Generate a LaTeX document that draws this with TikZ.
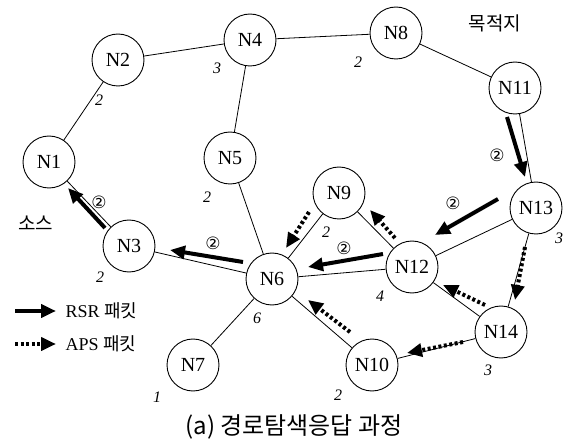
\documentclass[tikz,border=0pt]{standalone}
\usepackage{fontspec}
\setmainfont{Liberation Serif}
\newfontfamily\tms{Liberation Serif}
\newfontfamily\kr{Noto Sans CJK KR}
\newfontfamily\dv{DejaVu Sans}
\usetikzlibrary{arrows.meta}
\begin{document}
\begin{tikzpicture}[x=1pt,y=-1pt,
 nd/.style={circle,draw,line width=0.9pt,minimum size=52pt,inner sep=0pt,font=\tms\fontsize{20}{20}\selectfont},
 ed/.style={line width=0.8pt},
 wt/.style={font=\tms\fontsize{16}{16}\selectfont\itshape},
 rsr/.style={line width=4pt,-{Triangle[length=15pt,width=13pt]}},
 aps/.style={line width=4pt,dash pattern=on 3pt off 2.5pt,-{Triangle[length=15pt,width=13pt]}},
 cn/.style={font=\dv\fontsize{17}{17}\selectfont},
 kt/.style={font=\kr\fontsize{19}{19}\selectfont},
 lg/.style={font=\tms\fontsize{18}{18}\selectfont,anchor=west}]
\useasboundingbox (0,0) rectangle (571,441);
% nodes
\node[nd] (N1) at (49,162) {N1};
\node[nd] (N2) at (118,60) {N2};
\node[nd] (N3) at (129,246) {N3};
\node[nd] (N4) at (250,40) {N4};
\node[nd] (N5) at (230,158) {N5};
\node[nd] (N6) at (272,279) {N6};
\node[nd] (N7) at (193,365) {N7};
\node[nd] (N8) at (396,33) {N8};
\node[nd] (N9) at (339,193) {N9};
\node[nd] (N10) at (372,365) {N10};
\node[nd] (N11) at (515,88) {N11};
\node[nd] (N12) at (412,267) {N12};
\node[nd] (N13) at (536,208) {N13};
\node[nd] (N14) at (501,332) {N14};
% edges
\foreach \a/\b in {N1/N2,N2/N4,N4/N8,N8/N11,N4/N5,N5/N6,N1/N3,N3/N6,N6/N7,N6/N9,N6/N12,N6/N10,N9/N12,N12/N13,N11/N13,N13/N14,N12/N14,N10/N14}
  \draw[ed] (\a) -- (\b);
% weights
\node[wt] (w2) at (99,100) {2};
\node[wt] (w4) at (217,68) {3};
\node[wt] (w8) at (358,62) {2};
\node[wt] (w5) at (207,197) {2};
\node[wt] (w3) at (100,277) {2};
\node[wt] (w6) at (257,318) {6};
\node[wt] (w7) at (157,397) {1};
\node[wt] (w9) at (326,232) {2};
\node[wt] (w12) at (380,296) {4};
\node[wt] (w13) at (559,238) {3};
\node[wt] (w14) at (488,370) {3};
\node[wt] (w10) at (338,395) {2};
% RSR arrows
\draw[rsr] (507,117) -- (525,177);
\draw[rsr] (498,199) -- (435,235);
\draw[rsr] (383,254) -- (308,267);
\draw[rsr] (243,262) -- (170,250);
\draw[rsr] (105,228) -- (68,188);
\node[cn] (c1) at (497,155) {②};
\node[cn] (c2) at (453,203) {②};
\node[cn] (c3) at (344,248) {②};
\node[cn] (c4) at (213,243) {②};
\node[cn] (c5) at (99,202) {②};
% APS arrows
\draw[aps] (525,247) -- (515,300);
\draw[aps] (485,305) -- (443,285);
\draw[aps] (463,342) -- (407,353);
\draw[aps] (350,332) -- (308,300);
\draw[aps] (395,238) -- (370,210);
\draw[aps] (309,212) -- (286,248);
% labels
\node[kt] (dst) at (495,23) {목적지};
\node[kt] (src) at (36,223) {소스};
% legend
\draw[rsr] (15,311) -- (56,311);
\node[lg] (l1) at (62,311) {RSR {\kr 패킷}};
\draw[aps] (15,344) -- (56,344);
\node[lg] (l2) at (62,344) {APS {\kr 패킷}};
% caption
\node[font=\kr\fontsize{24}{24}\selectfont] (cap) at (294,427) {(a) 경로탐색응답 과정};
\end{tikzpicture}
\end{document}
